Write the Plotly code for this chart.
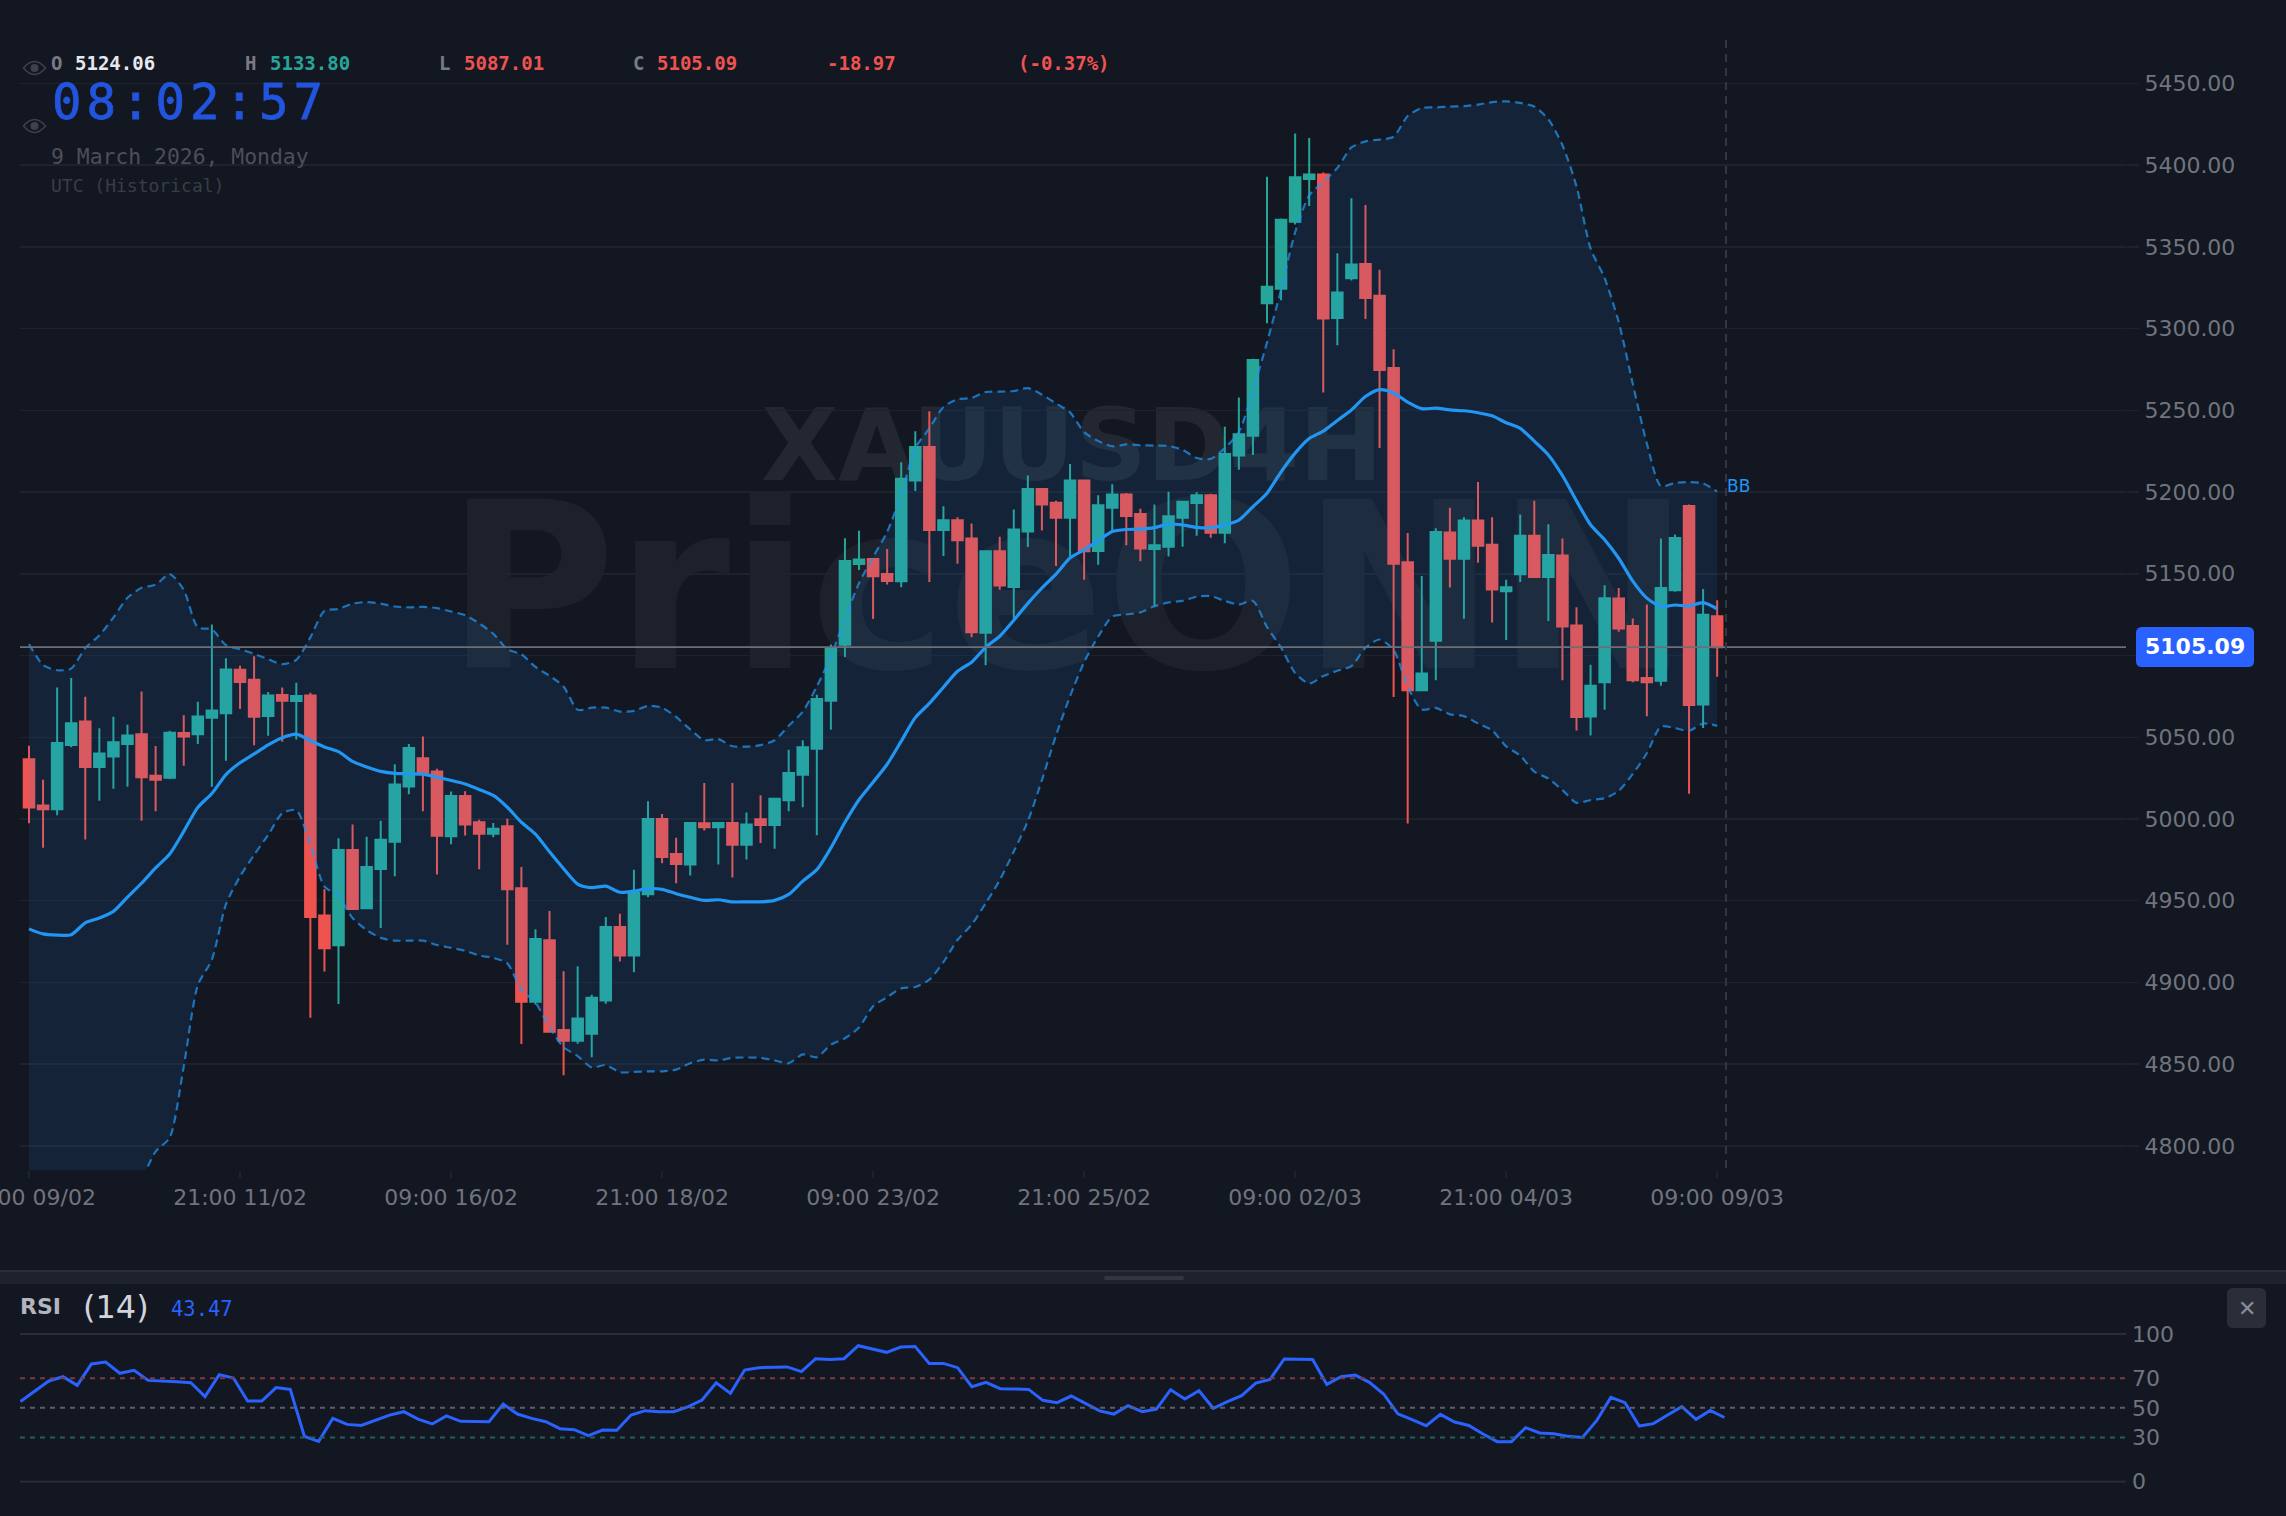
import plotly.graph_objects as go

W, H = 2286, 1516

# Four-hour XAUUSD candles
OPEN = [5036.6, 5008.3, 5005.9, 5045.3, 5059.6, 5031.8, 5038.3, 5045.8, 5051.9, 5026.5,
        5025.3, 5052.6, 5051.9, 5062.0, 5064.7, 5091.3, 5085.2, 5063.0, 5075.8, 5072.2,
        5075.6, 4941.0, 4922.7, 4981.0, 4945.4, 4969.4, 4986.1, 5019.9, 5037.1, 5029.1,
        4989.4, 5014.0, 4998.0, 4991.0, 4995.6, 4957.6, 4888.2, 4925.9, 4870.9, 4864.3,
        4868.7, 4889.0, 4934.0, 4916.5, 4953.9, 5000.0, 4978.6, 4972.2, 4997.4, 4995.0,
        4997.6, 4984.3, 4999.8, 4996.3, 5011.5, 5027.0, 5043.0, 5072.3, 5106.6, 5156.0,
        5159.0, 5149.8, 5145.4, 5207.0, 5227.5, 5176.7, 5182.8, 5171.6, 5114.0, 5163.8,
        5141.9, 5175.8, 5201.8, 5193.5, 5184.3, 5207.0, 5164.0, 5190.4, 5198.5, 5186.5,
        5165.1, 5166.6, 5184.3, 5193.3, 5198.1, 5175.1, 5222.4, 5234.5, 5315.4, 5324.4,
        5365.4, 5391.5, 5394.3, 5306.4, 5330.8, 5339.5, 5320.1, 5275.8, 5157.0, 5078.7,
        5109.0, 5175.3, 5159.2, 5182.6, 5167.7, 5139.3, 5149.7, 5173.3, 5148.0, 5161.2,
        5118.3, 5062.7, 5083.7, 5134.8, 5118.0, 5086.2, 5084.6, 5139.9, 5191.5, 5070.0,
        5124.06]
HIGH = [5044.8, 5024.0, 5080.4, 5086.2, 5074.8, 5055.5, 5062.5, 5057.7, 5078.0, 5044.6,
        5054.0, 5063.5, 5071.7, 5118.9, 5098.3, 5093.7, 5099.5, 5077.7, 5080.4, 5083.3,
        5077.3, 4957.0, 4988.2, 4996.7, 4989.2, 4998.9, 5033.5, 5045.8, 5050.4, 5030.8,
        5016.8, 5017.0, 4999.5, 4997.6, 5000.2, 4970.7, 4932.5, 4943.8, 4906.9, 4910.0,
        4892.5, 4940.1, 4942.1, 4969.0, 5010.9, 5003.0, 4988.6, 4998.0, 5022.0, 4998.0,
        5022.0, 5003.9, 5014.6, 5012.4, 5042.3, 5048.2, 5076.0, 5106.8, 5171.7, 5176.3,
        5159.5, 5165.1, 5218.2, 5237.2, 5249.4, 5191.3, 5184.5, 5180.8, 5163.8, 5172.7,
        5189.3, 5210.1, 5201.8, 5194.6, 5217.1, 5207.7, 5198.1, 5204.8, 5199.4, 5189.8,
        5192.4, 5200.2, 5194.1, 5199.8, 5198.9, 5240.0, 5257.8, 5281.5, 5392.9, 5367.3,
        5419.3, 5416.5, 5395.4, 5346.0, 5379.7, 5375.5, 5335.9, 5287.3, 5175.0, 5148.6,
        5177.8, 5190.4, 5184.5, 5206.1, 5184.5, 5146.3, 5186.2, 5194.6, 5180.3, 5171.6,
        5129.5, 5094.4, 5143.0, 5141.3, 5122.7, 5131.2, 5171.6, 5174.1, 5192.4, 5140.7,
        5133.80]
LOW = [4997.4, 4982.4, 5002.3, 5043.9, 4987.5, 5011.2, 5018.5, 5019.7, 4998.9, 5004.7,
       5024.3, 5032.5, 5045.8, 5019.7, 5035.7, 5067.3, 5045.1, 5050.9, 5047.3, 5048.7,
       4878.4, 4906.7, 4886.9, 4944.9, 4945.0, 4933.3, 4965.0, 5015.1, 5004.7, 4966.0,
       4984.6, 4989.9, 4969.2, 4988.8, 4923.1, 4862.4, 4886.6, 4869.8, 4843.2, 4862.6,
       4854.3, 4887.0, 4912.8, 4906.3, 4952.1, 4972.9, 4960.7, 4965.5, 4993.0, 4972.2,
       4964.2, 4975.3, 4985.3, 4981.8, 5004.8, 5007.2, 4990.1, 5054.6, 5099.1, 5152.3,
       5122.3, 5143.5, 5141.7, 5200.7, 5145.0, 5160.9, 5156.1, 5111.1, 5094.1, 5140.2,
       5122.5, 5166.4, 5176.4, 5154.8, 5160.3, 5146.3, 5155.5, 5175.6, 5167.5, 5157.7,
       5130.1, 5160.5, 5166.6, 5173.2, 5172.1, 5168.6, 5213.7, 5222.7, 5303.3, 5317.3,
       5363.7, 5374.9, 5260.9, 5289.8, 5329.4, 5305.8, 5226.9, 5074.7, 4997.2, 5078.7,
       5084.8, 5141.6, 5122.5, 5156.7, 5120.2, 5109.5, 5144.9, 5148.0, 5121.1, 5084.8,
       5054.2, 5051.1, 5066.9, 5114.6, 5083.7, 5062.9, 5081.5, 5139.0, 5015.5, 5055.6,
       5087.01]
CLOSE = [5007.1, 5005.9, 5046.5, 5058.6, 5031.8, 5040.0, 5047.0, 5051.1, 5025.5, 5024.0,
         5052.8, 5050.4, 5062.7, 5066.4, 5091.5, 5083.8, 5062.5, 5075.6, 5072.4, 5075.3,
         4940.1, 4921.0, 4981.0, 4944.9, 4970.6, 4987.3, 5021.1, 5043.4, 5027.7, 4989.7,
         5014.0, 4996.7, 4991.0, 4994.1, 4957.0, 4888.2, 4926.6, 4869.8, 4864.3, 4877.9,
         4890.6, 4934.0, 4916.5, 4955.0, 5000.0, 4976.8, 4972.5, 4997.6, 4995.0, 4997.6,
         4984.3, 4996.7, 4996.3, 5012.4, 5028.1, 5043.9, 5073.4, 5104.1, 5157.8, 5158.8,
         5148.5, 5145.6, 5208.1, 5227.5, 5176.7, 5182.8, 5170.5, 5114.2, 5163.8, 5142.8,
         5177.1, 5201.8, 5192.4, 5184.3, 5207.0, 5163.8, 5191.9, 5198.5, 5185.4, 5165.5,
         5167.5, 5185.2, 5194.1, 5198.1, 5175.1, 5223.2, 5235.3, 5280.8, 5325.5, 5366.5,
         5392.6, 5394.3, 5306.1, 5322.1, 5339.2, 5318.7, 5274.7, 5156.2, 5078.7, 5089.0,
         5175.5, 5159.2, 5182.6, 5167.1, 5140.4, 5141.8, 5173.3, 5148.0, 5161.5, 5117.7,
         5062.4, 5081.5, 5135.1, 5116.6, 5084.8, 5083.7, 5141.3, 5171.9, 5069.7, 5125.0,
         5105.09]

# Bollinger bands (20, 2)
BB_UPPER = [5107.0, 5094.2, 5091.0, 5092.0, 5104.6, 5112.3, 5123.2, 5135.3, 5141.4, 5143.3,
            5149.8, 5140.2, 5117.2, 5116.0, 5106.3, 5103.9, 5101.0, 5097.8, 5094.7, 5097.3,
            5111.1, 5127.3, 5128.5, 5131.7, 5132.7, 5131.7, 5130.0, 5129.5, 5129.8, 5129.0,
            5126.9, 5124.7, 5119.7, 5113.3, 5103.9, 5100.7, 5093.0, 5087.6, 5081.0, 5066.8,
            5068.1, 5068.1, 5065.7, 5066.1, 5069.2, 5068.1, 5062.4, 5054.8, 5048.2, 5048.9,
            5044.5, 5044.3, 5045.2, 5048.2, 5057.0, 5065.7, 5081.0, 5099.6, 5122.5, 5144.3,
            5160.3, 5175.6, 5198.5, 5226.9, 5238.9, 5252.0, 5256.8, 5257.5, 5261.2, 5261.4,
            5261.8, 5263.6, 5259.6, 5254.2, 5248.7, 5236.7, 5231.3, 5228.0, 5229.1, 5228.6,
            5228.4, 5228.2, 5225.8, 5220.8, 5220.3, 5226.9, 5236.7, 5262.0, 5291.5, 5323.8,
            5358.9, 5381.4, 5389.8, 5398.2, 5410.8, 5414.5, 5415.6, 5417.3, 5430.0, 5434.9,
            5435.3, 5435.8, 5436.0, 5437.0, 5438.5, 5439.0, 5438.0, 5435.8, 5428.0, 5412.2,
            5387.0, 5349.0, 5330.8, 5304.0, 5266.2, 5229.7, 5203.6, 5205.6, 5206.1, 5205.3,
            5200.2]
BB_MID = [4932.8, 4929.7, 4929.0, 4929.2, 4936.5, 4939.4, 4943.5, 4952.2, 4960.7, 4970.1,
          4978.6, 4992.4, 5007.1, 5015.6, 5027.2, 5034.4, 5039.8, 5045.3, 5049.7, 5051.9,
          5048.0, 5044.1, 5041.2, 5035.2, 5031.8, 5029.1, 5027.9, 5027.7, 5027.4, 5025.5,
          5023.6, 5021.4, 5018.1, 5014.4, 5007.2, 4998.0, 4990.8, 4979.9, 4969.6, 4960.2,
          4958.0, 4958.9, 4955.2, 4955.9, 4957.4, 4957.0, 4954.3, 4952.1, 4950.2, 4950.6,
          4949.3, 4949.3, 4949.3, 4950.2, 4953.9, 4962.0, 4969.0, 4982.3, 4998.0, 5011.8,
          5022.5, 5033.5, 5047.6, 5062.0, 5070.7, 5080.6, 5090.4, 5095.9, 5105.0, 5111.8,
          5121.6, 5131.9, 5141.3, 5149.8, 5159.6, 5164.6, 5170.1, 5175.8, 5177.1, 5177.3,
          5178.2, 5180.4, 5179.9, 5178.4, 5178.2, 5179.9, 5182.8, 5191.0, 5199.3, 5212.3,
          5223.8, 5232.7, 5237.3, 5243.8, 5250.2, 5258.4, 5262.6, 5260.6, 5255.0, 5251.0,
          5251.3, 5250.2, 5249.7, 5248.5, 5246.6, 5242.4, 5239.0, 5231.1, 5222.7, 5210.1,
          5194.6, 5180.0, 5170.8, 5159.5, 5145.5, 5135.1, 5130.0, 5130.9, 5130.3, 5132.3,
          5128.6]
BB_LOWER = [4758.6, 4765.2, 4767.0, 4766.4, 4768.4, 4766.5, 4763.8, 4769.1, 4780.0, 4796.6,
            4805.1, 4848.7, 4898.3, 4914.0, 4947.8, 4964.8, 4978.1, 4990.2, 5003.5, 5005.4,
            4984.1, 4958.7, 4952.7, 4939.4, 4932.1, 4927.3, 4925.6, 4925.6, 4925.6, 4922.9,
            4921.2, 4919.4, 4916.5, 4915.0, 4911.7, 4895.4, 4887.7, 4872.4, 4860.4, 4855.0,
            4848.0, 4849.5, 4845.1, 4845.3, 4845.6, 4845.6, 4846.7, 4850.6, 4852.8, 4852.3,
            4853.9, 4854.1, 4853.9, 4852.3, 4850.6, 4856.0, 4854.3, 4861.9, 4865.9, 4872.4,
            4885.5, 4891.0, 4896.4, 4897.2, 4901.7, 4912.5, 4926.0, 4935.3, 4948.4, 4962.6,
            4980.1, 4998.7, 5023.8, 5051.1, 5075.1, 5095.9, 5111.6, 5123.8, 5125.1, 5126.4,
            5130.1, 5132.5, 5133.4, 5136.0, 5136.3, 5133.4, 5131.2, 5133.4, 5117.4, 5104.8,
            5089.3, 5082.9, 5087.4, 5090.7, 5093.5, 5104.8, 5109.8, 5103.4, 5080.9, 5066.9,
            5068.0, 5064.0, 5062.9, 5058.4, 5054.2, 5044.4, 5038.8, 5029.0, 5024.7, 5017.7,
            5009.9, 5011.6, 5012.7, 5017.2, 5027.6, 5040.2, 5056.5, 5055.6, 5053.9, 5058.4,
            5057.0]

# RSI (14)
RSI = [54.2, 60.9, 68.2, 71.1, 65.2, 79.7, 81.0, 73.4, 75.4, 68.6,
       68.4, 67.7, 67.0, 57.6, 72.5, 70.2, 54.6, 54.6, 63.7, 62.5,
       30.7, 27.3, 42.9, 38.8, 38.1, 41.5, 45.1, 47.4, 42.4, 39.1,
       44.5, 40.9, 40.9, 40.6, 52.6, 45.8, 42.9, 40.6, 35.9, 35.2,
       31.2, 35.0, 34.8, 45.1, 48.1, 47.4, 47.4, 50.6, 55.3, 67.0,
       59.8, 75.6, 77.2, 77.4, 77.7, 74.5, 83.3, 82.8, 83.3, 92.1,
       90.1, 87.6, 91.2, 91.6, 80.1, 80.1, 77.2, 64.3, 67.3, 63.0,
       62.8, 62.5, 55.1, 53.5, 58.0, 52.8, 47.9, 45.8, 51.5, 47.4,
       49.2, 62.3, 56.0, 61.6, 49.7, 54.2, 58.2, 66.8, 69.3, 83.1,
       83.1, 82.8, 65.9, 71.1, 72.2, 67.3, 59.4, 46.0, 42.0, 37.9,
       45.6, 40.4, 38.1, 32.3, 27.1, 27.1, 36.6, 33.0, 32.5, 30.7,
       30.0, 41.3, 57.1, 53.5, 37.7, 39.3, 45.1, 50.8, 42.2, 48.3,
       43.47]

TIME_TICKS = [0, 15, 30, 45, 60, 75, 90, 105, 120]
TIME_LABELS = ["09:00 09/02", "21:00 11/02", "09:00 16/02", "21:00 18/02", "09:00 23/02",
               "21:00 25/02", "09:00 02/03", "21:00 04/03", "09:00 09/03"]
PRICE_TICKS = [4800, 4850, 4900, 4950, 5000, 5050, 5100, 5150, 5200, 5250, 5300, 5350, 5400, 5450]
RSI_TICKS = [0, 30, 50, 70, 100]

BG = "#131722"
GRID = "#1e222d"
TICK = "#71747e"
UP = "#26a69a"
DOWN = "#ef5350"
BLUE = "#2962ff"
BB = "#2196f3"
MONO = "DejaVu Sans Mono"
SANS = "DejaVu Sans"


def px(x):
    return x / W


def py(y):
    return 1 - y / H


indices = list(range(len(CLOSE)))

fig = go.Figure()
fig.add_trace(go.Candlestick(
    x=indices, open=OPEN, high=HIGH, low=LOW, close=CLOSE,
    increasing=dict(line=dict(color=UP, width=2), fillcolor=UP),
    decreasing=dict(line=dict(color=DOWN, width=2), fillcolor=DOWN),
    whiskerwidth=0, hoverinfo="skip", xaxis="x", yaxis="y",
))
band_line = dict(color="rgba(33,150,243,0.72)", width=2.2, dash="8px,5px", shape="spline", smoothing=0.7)
fig.add_trace(go.Scatter(x=indices, y=BB_UPPER, mode="lines", line=band_line, hoverinfo="skip"))
fig.add_trace(go.Scatter(x=indices, y=BB_LOWER, mode="lines", line=band_line, hoverinfo="skip",
                         fill="tonexty", fillcolor="rgba(33,150,243,0.10)"))
fig.add_trace(go.Scatter(x=indices, y=BB_MID, mode="lines", hoverinfo="skip",
                         line=dict(color=BB, width=3.2, shape="spline", smoothing=0.7)))
fig.add_trace(go.Scatter(x=indices, y=RSI, mode="lines", hoverinfo="skip", xaxis="x2", yaxis="y2",
                         line=dict(color=BLUE, width=3)))

shapes = []


def rounded_rect(x0, y0, x1, y1, r, color):
    xs = [px(x0), px(x0 + r), px(x1 - r), px(x1)]
    ys = [py(y0), py(y0 + r), py(y1 - r), py(y1)]
    path = (f"M{xs[1]},{ys[0]} L{xs[2]},{ys[0]} Q{xs[3]},{ys[0]} {xs[3]},{ys[1]} "
            f"L{xs[3]},{ys[2]} Q{xs[3]},{ys[3]} {xs[2]},{ys[3]} L{xs[1]},{ys[3]} "
            f"Q{xs[0]},{ys[3]} {xs[0]},{ys[2]} L{xs[0]},{ys[1]} Q{xs[0]},{ys[0]} {xs[1]},{ys[0]} Z")
    return dict(type="path", xref="paper", yref="paper", path=path, fillcolor=color, line=dict(width=0))


def eye(cx, cy):
    color = "#3d4149"
    path = (f"M{px(cx - 11)},{py(cy)} Q{px(cx)},{py(cy - 13)} {px(cx + 11)},{py(cy)} "
            f"Q{px(cx)},{py(cy + 13)} {px(cx - 11)},{py(cy)} Z")
    shapes.append(dict(type="path", xref="paper", yref="paper", path=path,
                       line=dict(color=color, width=1.5)))
    shapes.append(dict(type="circle", xref="paper", yref="paper", fillcolor=color, line=dict(width=0),
                       x0=px(cx - 4), x1=px(cx + 4), y0=py(cy - 4), y1=py(cy + 4)))


def watermark(text, cx, cy, size, alpha, weight):
    shapes.append(dict(type="rect", xref="paper", yref="paper", layer="below",
                       x0=px(cx - 700), x1=px(cx + 700), y0=py(cy - 150), y1=py(cy + 150),
                       line=dict(width=0), fillcolor="rgba(0,0,0,0)",
                       label=dict(text=text, textposition="middle center",
                                  font=dict(family=SANS, size=size, weight=weight,
                                            color=f"rgba(255,255,255,{alpha})"))))


watermark("PriceONN", 1068, 571, 232, 0.045, "bold")
watermark("XAUUSD4H", 1072, 438, 100, 0.07, "bold")

# Last price line and its axis flag
shapes.append(dict(type="line", xref="paper", yref="y", x0=px(20), x1=px(2126),
                   y0=CLOSE[-1], y1=CLOSE[-1], line=dict(color="#6c6f78", width=1.8)))
shapes.append(rounded_rect(2136, 627, 2254, 667, 6, BLUE))

# Crosshair
shapes.append(dict(type="line", xref="paper", yref="paper", x0=px(1726), x1=px(1726),
                   y0=py(40), y1=py(1170), line=dict(color="#363a45", width=1.8, dash="8px,6px")))

# RSI levels and bounds
for level, color in ((70, "#7b3b41"), (50, "#5c5f67"), (30, "#24605f")):
    shapes.append(dict(type="line", xref="paper", yref="y2", x0=px(20), x1=px(2126), y0=level, y1=level,
                       line=dict(color=color, width=2, dash="5px,5px")))
for level in (0, 100):
    shapes.append(dict(type="line", xref="paper", yref="y2", x0=px(20), x1=px(2126), y0=level, y1=level,
                       line=dict(color="#2a2e39", width=1.8)))

# Pane divider and close button
shapes.append(dict(type="rect", xref="paper", yref="paper", x0=0, x1=1, y0=py(1284), y1=py(1270),
                   fillcolor="#1e222d", line=dict(width=0), layer="below"))
shapes.append(dict(type="rect", xref="paper", yref="paper", x0=0, x1=1, y0=py(1272), y1=py(1270),
                   fillcolor="#2a2e39", line=dict(width=0), layer="below"))
shapes.append(rounded_rect(1104, 1276, 1184, 1280, 2, "#33363f"))
shapes.append(rounded_rect(2227, 1288, 2266, 1328, 6, "#2a2e39"))

eye(34.5, 68)
eye(34.5, 126)

annotations = []


def label(text, x, y, size, color, family=MONO, anchor="left", weight="normal"):
    annotations.append(dict(text=text, x=px(x), y=py(y), xref="paper", yref="paper", xanchor=anchor,
                            yanchor="middle", showarrow=False, borderpad=0, borderwidth=0,
                            font=dict(family=family, size=size, color=color, weight=weight)))


label("O", 51, 63, 19, "#787b86", weight="bold")
label("5124.06", 75, 63, 19, "#e6e8ee", weight="bold")
label("H", 245, 63, 19, "#787b86", weight="bold")
label("5133.80", 270, 63, 19, UP, weight="bold")
label("L", 439, 63, 19, "#787b86", weight="bold")
label("5087.01", 464, 63, 19, DOWN, weight="bold")
label("C", 633, 63, 19, "#787b86", weight="bold")
label("5105.09", 657, 63, 19, DOWN, weight="bold")
label("-18.97", 827, 63, 19, DOWN, weight="bold")
label("(-0.37%)", 1018, 63, 19, DOWN, weight="bold")
label("08:02:57", 72, 102, 49, "#2255dd")
label("9 March 2026, Monday", 51, 156, 21.4, "#4c4f59")
label("UTC (Historical)", 51, 185, 18, "#3a3d47")
label("BB", 1727, 486, 17, BB, family=SANS)
label("5105.09", 2195, 647, 22, "#ffffff", family=SANS, anchor="center", weight="bold")
label("RSI", 20, 1306, 22, "#b2b5be", family=SANS, weight="bold")
label("(14)", 83, 1307, 32, "#d1d4dc", family=SANS)
label("43.47", 171, 1309, 20.5, BLUE)
label("✕", 2246.5, 1308, 22, "#8a8d96", family=SANS, anchor="center")

# Pixel scales: candle i sits at 29 + 14.068 i in the price pane and 20.4 + 14.2 i in the RSI pane
fig.update_layout(
    width=W, height=H, autosize=False, margin=dict(l=0, r=0, t=0, b=0, pad=0),
    paper_bgcolor=BG, plot_bgcolor=BG, showlegend=False, boxgap=0.25, boxgroupgap=0, hovermode=False,
    shapes=shapes, annotations=annotations, font=dict(family=SANS),
    xaxis=dict(domain=[px(20), px(2126)], range=[-0.64, 149.06], anchor="y", tickmode="array",
               tickvals=TIME_TICKS, ticktext=TIME_LABELS, showgrid=False, zeroline=False, showline=False,
               rangeslider=dict(visible=False), ticks="outside", ticklen=7, tickwidth=1.5, tickcolor=GRID,
               tickfont=dict(family=SANS, size=22, color=TICK), ticklabelstandoff=1,
               ticklabeloverflow="allow", automargin=False),
    yaxis=dict(domain=[py(1170), py(40)], range=[4785.3, 5476.5], anchor="x", side="right",
               tickmode="array", tickvals=PRICE_TICKS,
               # the 5100 label sits under the last-price flag
               ticktext=["" if v == 5100 else f"{v:.2f}" for v in PRICE_TICKS],
               gridcolor=GRID, gridwidth=1.5, automargin=False,
               zeroline=False, showline=False, ticks="outside", ticklen=12, tickwidth=1.5, tickcolor=GRID,
               tickfont=dict(family=SANS, size=22, color=TICK), ticklabelstandoff=1),
    xaxis2=dict(domain=[px(20), px(2126)], range=[-0.03, 148.28], anchor="y2", showticklabels=False,
                showgrid=False, zeroline=False, showline=False, ticks="", automargin=False),
    yaxis2=dict(domain=[py(1500), py(1320)], range=[-12.39, 109.48], anchor="x2", side="right",
                tickmode="array", tickvals=RSI_TICKS, showgrid=False, zeroline=False, showline=False,
                automargin=False, ticks="", tickfont=dict(family=SANS, size=22, color=TICK),
                ticklabelstandoff=5),
)

# The clock reads as wide, evenly spaced digits
CLOCK_STYLE = """
document.querySelectorAll('text').forEach(function (t) {
  if (t.textContent === '08:02:57') {
    t.style.letterSpacing = '5px';
    t.style.stroke = '#2255dd';
    t.style.strokeWidth = '0.8px';
  }
});
"""

fig.write_html("out.html", config=dict(displayModeBar=False, staticPlot=True), post_script=CLOCK_STYLE)
